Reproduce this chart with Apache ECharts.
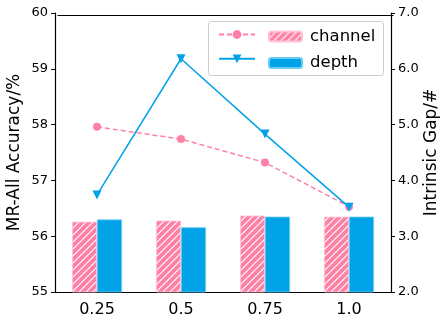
<!DOCTYPE html>
<html><head><meta charset="utf-8">
<script src="https://cdn.jsdelivr.net/npm/echarts@6/dist/echarts.min.js"></script>
<style>html,body{margin:0;padding:0;background:#fff}#c{width:441px;height:320px}</style>
</head><body><div id="c"></div>
<script>
const categories = ['0.25', '0.5', '0.75', '1.0'];
const channelAcc = [56.26, 56.28, 56.37, 56.35];
const depthAcc = [56.30, 56.16, 56.35, 56.35];
const channelGap = [4.96, 4.74, 4.32, 3.53];
const depthGap = [3.74, 6.18, 4.83, 3.52];
const leftTicks = [55, 56, 57, 58, 59, 60];
const rightTicks = [2.0, 3.0, 4.0, 5.0, 6.0, 7.0];

const PINK = '#ff80a6';
const BLUE = '#00a2e8';
const FONT = 'DejaVu Sans';

function hatch() {
  const s = 7;
  const c = document.createElement('canvas');
  c.width = s; c.height = s;
  const g = c.getContext('2d');
  g.fillStyle = PINK; g.fillRect(0, 0, s, s);
  g.strokeStyle = '#ffffff'; g.lineWidth = 1.1;
  g.beginPath();
  g.moveTo(-1, s + 1); g.lineTo(s + 1, -1);
  g.moveTo(-1, 1); g.lineTo(1, -1);
  g.moveTo(s - 1, s + 1); g.lineTo(s + 1, s - 1);
  g.stroke();
  return c;
}
const pat = { image: hatch(), repeat: 'repeat' };

const chart = echarts.init(document.getElementById('c'), null, { renderer: 'canvas' });
chart.setOption({
  animation: false,
  textStyle: { fontFamily: FONT },
  grid: { left: 55, right: 50, top: 13, bottom: 28, outerBoundsMode: 'none', containLabel: false },
  xAxis: {
    type: 'category', data: categories, boundaryGap: true,
    axisLine: { lineStyle: { color: '#000', width: 1.2 } },
    axisTick: { alignWithLabel: true, length: 4, lineStyle: { color: '#000' } },
    axisLabel: { color: '#000', fontSize: 16, margin: 10, fontFamily: FONT }
  },
  yAxis: [{
    type: 'value', min: leftTicks[0], max: leftTicks[leftTicks.length - 1], interval: 1,
    name: 'MR-All Accuracy/%', nameLocation: 'middle', nameGap: 32, nameRotate: 90,
    nameMoveOverlap: false,
    nameTextStyle: { color: '#000', fontSize: 17, fontFamily: FONT },
    axisLine: { show: true, lineStyle: { color: '#000', width: 1.2 } },
    axisTick: { show: true, length: 4, lineStyle: { color: '#000' } },
    axisLabel: { color: '#000', fontSize: 13, margin: 7, fontFamily: FONT },
    splitLine: { show: false }
  }, {
    type: 'value', min: rightTicks[0], max: rightTicks[rightTicks.length - 1], interval: 1,
    position: 'right',
    name: 'Intrinsic Gap/#', nameLocation: 'middle', nameGap: 32, nameRotate: 90,
    nameMoveOverlap: false,
    nameTextStyle: { color: '#000', fontSize: 17, fontFamily: FONT },
    axisLine: { show: true, lineStyle: { color: '#000', width: 1.2 } },
    axisTick: { show: true, length: 4, lineStyle: { color: '#000' } },
    axisLabel: { color: '#000', fontSize: 13, margin: 7, fontFamily: FONT, formatter: v => v.toFixed(1) },
    splitLine: { show: false }
  }],
  graphic: [{
    type: 'rect', left: 55, top: 13, z: 0,
    shape: { width: 336, height: 0 },
    style: { stroke: '#000', lineWidth: 1.2, fill: 'none' }
  }, {
    type: 'rect', left: 208, top: 21, z: 10,
    shape: { width: 175, height: 54, r: 3 },
    style: { stroke: '#cccccc', lineWidth: 1, fill: 'rgba(255,255,255,0.8)' }
  }],
  legend: [{
    orient: 'vertical', left: 213, top: 24, itemGap: 14.4,
    itemWidth: 36, itemHeight: 11, z: 20,
    data: ['channel line', 'depth line'],
    formatter: () => '', textStyle: { fontSize: 16 }
  }, {
    orient: 'vertical', left: 263, top: 23, itemGap: 9.4,
    itemWidth: 33, itemHeight: 10, z: 20,
    data: ['channel', 'depth'],
    textStyle: { color: '#000', fontSize: 16.5, fontFamily: FONT, padding: [0, 0, 0, 3] }
  }],
  series: [{
    name: 'channel', type: 'bar', yAxisIndex: 0, data: channelAcc,
    barWidth: 25, barGap: '0%',
    itemStyle: { color: pat, borderColor: '#ffc4d6', borderWidth: 0.8 }
  }, {
    name: 'depth', type: 'bar', yAxisIndex: 0, data: depthAcc,
    barWidth: 25,
    itemStyle: { color: BLUE, borderColor: '#66ccf2', borderWidth: 0.8 }
  }, {
    name: 'channel line', type: 'line', yAxisIndex: 1, data: channelGap,
    symbol: 'circle', symbolSize: 8, z: 5,
    lineStyle: { color: PINK, width: 1.5, type: [5, 3] },
    itemStyle: { color: PINK }
  }, {
    name: 'depth line', type: 'line', yAxisIndex: 1, data: depthGap,
    symbol: 'triangle', symbolRotate: 180, symbolSize: 9, z: 5,
    lineStyle: { color: BLUE, width: 1.5 },
    itemStyle: { color: BLUE }
  }]
});
</script></body></html>
